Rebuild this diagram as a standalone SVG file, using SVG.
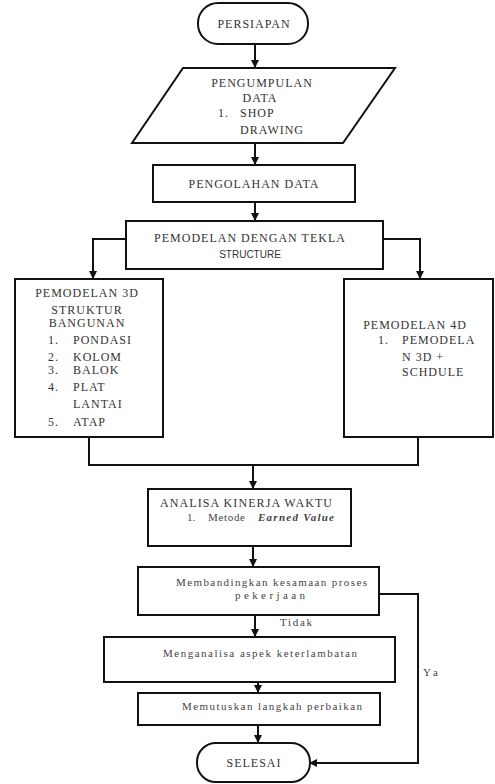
<svg xmlns="http://www.w3.org/2000/svg" width="495" height="784" viewBox="0 0 495 784">
<defs>
<marker id="ah" markerWidth="8" markerHeight="8" refX="7" refY="4" orient="auto" markerUnits="userSpaceOnUse">
<path d="M0,0 L8,4 L0,8 Z" fill="#111"/>
</marker>
<style>
.box{fill:#fff;stroke:#111;stroke-width:2}
.ln{fill:none;stroke:#111;stroke-width:2}
.t{font-family:"Liberation Serif","Times New Roman",serif;font-size:12px;fill:#333;letter-spacing:1px}
.s{font-family:"Liberation Serif","Times New Roman",serif;font-size:11px;fill:#444}
.m{text-anchor:middle}
</style>
</defs>
<rect width="495" height="784" fill="#fff"/>
<g id="connectors">
<path class="ln" d="M255,45 V67" marker-end="url(#ah)"/>
<path class="ln" d="M255,143 V164" marker-end="url(#ah)"/>
<path class="ln" d="M255,202 V220" marker-end="url(#ah)"/>
<path class="ln" d="M126,239 H93 V278" marker-end="url(#ah)"/>
<path class="ln" d="M383,239 H420 V278" marker-end="url(#ah)"/>
<path class="ln" d="M89,437 V465 H418 V437"/>
<path class="ln" d="M253,465 V488" marker-end="url(#ah)"/>
<path class="ln" d="M253,546 V566" marker-end="url(#ah)"/>
<path class="ln" d="M255,615 V636" marker-end="url(#ah)"/>
<path class="ln" d="M258,682 V692" marker-end="url(#ah)"/>
<path class="ln" d="M258,725 V742" marker-end="url(#ah)"/>
<path class="ln" d="M379,594 H418 V763 H310" marker-end="url(#ah)"/>
<text class="s" x="280" y="626" textLength="32" lengthAdjust="spacing">Tidak</text>
<text class="s" x="423" y="676" textLength="15" lengthAdjust="spacing">Ya</text>
</g>
<g id="persiapan">
<rect class="box" x="198" y="3" width="110" height="41" rx="20"/>
<text class="t m" x="254" y="28">PERSIAPAN</text>
</g>
<g id="pengumpulan">
<path class="box" d="M183,68 H395 L343,143 H132 Z"/>
<text class="t m" x="262" y="87">PENGUMPULAN</text>
<text class="t m" x="260" y="102">DATA</text>
<text class="t" x="218" y="117">1.</text>
<text class="t" x="240" y="117">SHOP</text>
<text class="t" x="240" y="134">DRAWING</text>
</g>
<g id="pengolahan">
<rect class="box" x="153" y="165" width="202" height="37"/>
<text class="t m" x="254" y="188">PENGOLAHAN DATA</text>
</g>
<g id="tekla">
<rect class="box" x="126" y="221" width="257" height="48"/>
<text class="t m" x="250" y="242">PEMODELAN DENGAN TEKLA</text>
<text x="250" y="258" text-anchor="middle" font-family="Liberation Sans, Arial, sans-serif" font-size="10" fill="#333">STRUCTURE</text>
</g>
<g id="model3d">
<rect class="box" x="15" y="279" width="148" height="158"/>
<text class="t m" x="87" y="297">PEMODELAN 3D</text>
<text class="t m" x="87" y="314">STRUKTUR</text>
<text class="t m" x="87" y="327">BANGUNAN</text>
<text class="t" x="48" y="344">1.</text>
<text class="t" x="73" y="344">PONDASI</text>
<text class="t" x="48" y="361">2.</text>
<text class="t" x="73" y="361">KOLOM</text>
<text class="t" x="48" y="374">3.</text>
<text class="t" x="73" y="374">BALOK</text>
<text class="t" x="48" y="391">4.</text>
<text class="t" x="73" y="391">PLAT</text>
<text class="t" x="73" y="408">LANTAI</text>
<text class="t" x="48" y="426">5.</text>
<text class="t" x="73" y="426">ATAP</text>
</g>
<g id="model4d">
<rect class="box" x="344" y="279" width="149" height="158"/>
<text class="t m" x="415" y="329">PEMODELAN 4D</text>
<text class="t" x="378" y="344">1.</text>
<text class="t" x="402" y="344">PEMODELA</text>
<text class="t" x="402" y="361">N 3D +</text>
<text class="t" x="402" y="376">SCHDULE</text>
</g>
<g id="analisa">
<rect class="box" x="148" y="489" width="203" height="57"/>
<text class="t" x="160" y="507" textLength="173" lengthAdjust="spacing">ANALISA KINERJA WAKTU</text>
<text class="s" x="187" y="521">1.</text>
<text class="s" x="208" y="521" textLength="37" lengthAdjust="spacing">Metode</text>
<text class="s" x="258" y="521" textLength="76" lengthAdjust="spacing" font-style="italic" font-weight="bold" fill="#111">Earned Value</text>
</g>
<g id="membandingkan">
<rect class="box" x="138" y="567" width="241" height="48"/>
<text class="s" x="176" y="586" textLength="191" lengthAdjust="spacing">Membandingkan kesamaan proses</text>
<text class="s" x="235" y="599" textLength="70" lengthAdjust="spacing">pekerjaan</text>
</g>
<g id="menganalisa">
<rect class="box" x="104" y="637" width="291" height="45"/>
<text class="s" x="163" y="657" textLength="194" lengthAdjust="spacing">Menganalisa aspek keterlambatan</text>
</g>
<g id="memutuskan">
<rect class="box" x="138" y="693" width="242" height="32"/>
<text class="s" x="182" y="710" textLength="180" lengthAdjust="spacing">Memutuskan langkah  perbaikan</text>
</g>
<g id="selesai">
<rect class="box" x="197" y="743" width="113" height="39" rx="19"/>
<text class="t m" x="254" y="767">SELESAI</text>
</g>
</svg>
